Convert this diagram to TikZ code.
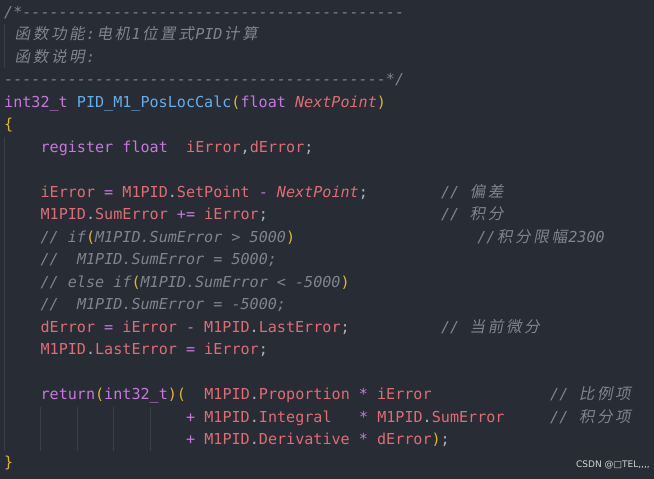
\documentclass[tikz,border=0pt]{standalone}
\usepackage{fontspec}
\setmainfont{DejaVu Sans Mono}[Ligatures=TeXOff]
\newfontfamily\cjkfont[FakeSlant=0.2]{Noto Sans CJK SC}
\newfontfamily\wmfont{DejaVu Sans}
\definecolor{bg}{HTML}{282C34}
\definecolor{fg}{HTML}{ABB2BF}
\definecolor{kw}{HTML}{C678DD}
\definecolor{fn}{HTML}{61AFEF}
\definecolor{vr}{HTML}{E06C75}
\definecolor{br}{HTML}{E2B33C}
\definecolor{cm}{HTML}{7F848E}
\definecolor{guide}{HTML}{3B4048}
\newcommand{\Z}[1]{\makebox[18.2pt]{\cjkfont\fontsize{15.5}{15.5}\selectfont #1}}
\newcommand{\K}[1]{\textcolor{kw}{#1}}
\newcommand{\F}[1]{\textcolor{fn}{#1}}
\newcommand{\V}[1]{\textcolor{vr}{#1}}
\newcommand{\VI}[1]{\textcolor{vr}{\itshape #1}}
\newcommand{\B}[1]{\textcolor{br}{#1}}
\newcommand{\CM}[1]{\textcolor{cm}{\itshape #1}}
\newcommand{\CL}[3]{\node[code] at ({4pt+#2*9.1pt},{-17pt-(#1-1)*22.5pt}) {#3};}
\tikzset{code/.style={anchor=base west,inner sep=0pt,text=fg,font=\fontsize{15.1}{15.1}\selectfont},
guideln/.style={draw=guide,line width=0.6pt}}
\begin{document}
\begin{tikzpicture}[x=1pt,y=1pt]
\fill[bg] (0,0) rectangle (654,-479);
\useasboundingbox (0,0) rectangle (654,-479);
\draw[guideln] (4,-24) -- (4,-68);
\draw[guideln] (4,-137) -- (4,-451);
\foreach \gx in {40,77,113,150} \draw[guideln] (\gx,-407) -- (\gx,-451);
\CL{1}{0}{\CM{/*------------------------------------------}}
\CL{2}{1}{\CM{\Z{函}\Z{数}\Z{功}\Z{能}:\Z{电}\Z{机}1\Z{位}\Z{置}\Z{式}PID\Z{计}\Z{算}}}
\CL{3}{1}{\CM{\Z{函}\Z{数}\Z{说}\Z{明}:}}
\CL{4}{0}{\CM{------------------------------------------*/}}
\CL{5}{0}{\K{int32\_t} \F{PID\_M1\_PosLocCalc}\B{(}\K{float} \VI{NextPoint}\B{)}}
\CL{6}{0}{\B{\{}}
\CL{7}{4}{\K{register float}}
\CL{7}{20}{\V{iError},\V{dError};}
\CL{9}{4}{\V{iError} \K{=} \V{M1PID}.\V{SetPoint} \K{-} \VI{NextPoint};}
\CL{9}{48}{\CM{// \Z{偏}\Z{差}}}
\CL{10}{4}{\V{M1PID}.\V{SumError} \K{+=} \V{iError};}
\CL{10}{48}{\CM{// \Z{积}\Z{分}}}
\CL{11}{4}{\CM{// if}\B{(}\CM{M1PID.SumError > 5000}\B{)}}
\CL{11}{52}{\CM{//\Z{积}\Z{分}\Z{限}\Z{幅}2300}}
\CL{12}{4}{\CM{//}}
\CL{12}{8}{\CM{M1PID.SumError = 5000;}}
\CL{13}{4}{\CM{// else if}\B{(}\CM{M1PID.SumError < -5000}\B{)}}
\CL{14}{4}{\CM{//}}
\CL{14}{8}{\CM{M1PID.SumError = -5000;}}
\CL{15}{4}{\V{dError} \K{=} \V{iError} \K{-} \V{M1PID}.\V{LastError};}
\CL{15}{48}{\CM{// \Z{当}\Z{前}\Z{微}\Z{分}}}
\CL{16}{4}{\V{M1PID}.\V{LastError} \K{=} \V{iError};}
\CL{18}{4}{\K{return}\B{(}\K{int32\_t}\B{)(}}
\CL{18}{22}{\V{M1PID}.\V{Proportion} \K{*} \V{iError}}
\CL{18}{60}{\CM{// \Z{比}\Z{例}\Z{项}}}
\CL{19}{20}{\K{+} \V{M1PID}.\V{Integral}}
\CL{19}{39}{\K{*} \V{M1PID}.\V{SumError}}
\CL{19}{60}{\CM{// \Z{积}\Z{分}\Z{项}}}
\CL{20}{20}{\K{+} \V{M1PID}.\V{Derivative} \K{*} \V{dError}\B{)};}
\CL{21}{0}{\B{\}}}
\node[anchor=base east,inner sep=0pt,text=white!80!bg,font=\wmfont\fontsize{9}{9}\selectfont] (wm) at (650,-467) {CSDN @□TEL,,,,};
\end{tikzpicture}
\end{document}
